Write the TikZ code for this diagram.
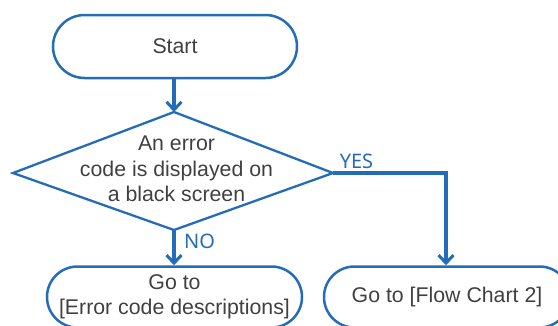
\documentclass[tikz,border=0pt]{standalone}
\usepackage{fontspec}
\setmainfont{Liberation Sans}
\newfontfamily\labelfont{Noto Sans}
\usetikzlibrary{arrows.meta}
\definecolor{flowblue}{RGB}{36,108,186}
\definecolor{flowtext}{RGB}{64,64,64}
\tikzset{
  termbox/.style={draw=flowblue, line width=2.5pt, rectangle, rounded corners=30.5pt,
    minimum height=61pt, text=flowtext, align=center, inner sep=0pt,
    font=\fontsize{21.3pt}{24.5pt}\selectfont},
  conn/.style={draw=flowblue, line width=3.2pt,
    -{Straight Barb[length=8pt,width=15pt,line width=3pt]}},
  branchlabel/.style={text=flowblue, inner sep=0pt,
    font=\labelfont\fontsize{20pt}{22pt}\selectfont},
  dectext/.style={text=flowtext, align=center, inner sep=0pt,
    font=\fontsize{21.3pt}{25.5pt}\selectfont}
}
\begin{document}
\begin{tikzpicture}[x=1pt,y=-1pt]
\useasboundingbox (0,0) rectangle (558,325);
% start
\node[termbox, minimum width=244pt, minimum height=63pt, rounded corners=31.5pt] (start) at (175,46.5) {Start};
% decision diamond
\coordinate (dtop) at (174,112);
\coordinate (dleft) at (13,173);
\coordinate (dright) at (333,173);
\coordinate (dbot) at (174,230);
\draw[flowblue, line width=2.3pt, line join=miter] (dtop) -- (dright) -- (dbot) -- (dleft) -- cycle;
\node[dectext] (dec) at (176.5,169) {An error\\code is displayed on\\a black screen};
% bottom boxes
\node[termbox, minimum width=255pt] (errbox) at (174.5,297) {Go to\\{}[Error code descriptions]};
\node[termbox, minimum width=246pt] (flowbox) at (447,297) {Go to [Flow Chart 2]};
\coordinate (yescorner) at (446,173);
% connectors
\draw[conn] (start.south -| dtop) -- (dtop);
\draw[conn] (dbot) -- (dbot |- errbox.north);
\draw[conn] (dright) -- (yescorner) -- (yescorner |- flowbox.north);
% labels
\node[branchlabel] (yes) at (356.5,161.5) {YES};
\node[branchlabel] (no) at (199.5,241) {NO};
\end{tikzpicture}
\end{document}
